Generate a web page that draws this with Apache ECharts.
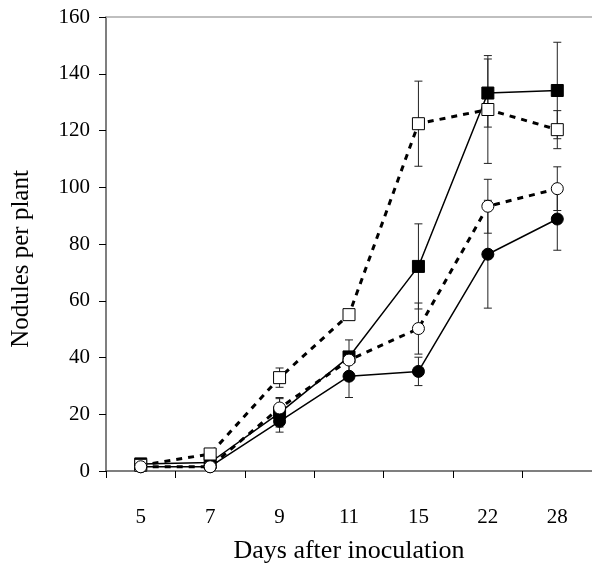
<!DOCTYPE html>
<html>
<head>
<meta charset="utf-8">
<script src="https://cdn.jsdelivr.net/npm/echarts@6/dist/echarts.min.js"></script>
<style>html,body{margin:0;padding:0;background:#fff}#c{width:592px;height:569px}</style>
</head>
<body>
<div id="c"></div>
<script>
const categories = ['5', '7', '9', '11', '15', '22', '28'];
const yTicks = { min: 0, max: 160, interval: 20 };

const filledSquare = [2.5, 3, 20.5, 40.2, 72.1, 133.2, 134.1];
const filledSquareErr = [0, 0, 5, 6, 15, 12, 17];

const filledCircle = [1.5, 1.5, 17.5, 33.4, 35.1, 76.4, 88.8];
const filledCircleErr = [0, 0, 3.8, 7.5, 5, 19, 11];

const openSquare = [2, 6, 32.9, 55.1, 122.4, 127.4, 120.3];
const openSquareErr = [0, 0, 3.4, 0, 15, 19, 6.7];

const openCircle = [1.5, 1.5, 22.2, 39.1, 50.2, 93.3, 99.5];
const openCircleErr = [0, 0, 3.7, 0, 9, 9.5, 7.7];

const FONT = 'Liberation Serif';

function errData(vals, errs) {
  const out = [];
  vals.forEach((v, i) => { if (errs[i] > 0) out.push([i, v - errs[i], v + errs[i]]); });
  return out;
}
function renderErr(params, api) {
  const x = api.value(0);
  const lo = api.coord([x, api.value(1)]);
  const hi = api.coord([x, api.value(2)]);
  const hw = 4;
  const st = { stroke: '#222', lineWidth: 1 };
  return {
    type: 'group',
    children: [
      { type: 'line', shape: { x1: lo[0], y1: lo[1], x2: hi[0], y2: hi[1] }, style: st },
      { type: 'line', shape: { x1: lo[0] - hw, y1: lo[1], x2: lo[0] + hw, y2: lo[1] }, style: st },
      { type: 'line', shape: { x1: hi[0] - hw, y1: hi[1], x2: hi[0] + hw, y2: hi[1] }, style: st }
    ]
  };
}
function errSeries(vals, errs) {
  return { type: 'custom', renderItem: renderErr, data: errData(vals, errs), z: 1, silent: true, xAxisIndex: 0 };
}
function lineSeries(name, vals, symbol, filled, dashed) {
  return {
    name, type: 'line', data: vals, symbol, symbolSize: 12, showSymbol: true, z: filled ? 3 : 4,
    itemStyle: filled ? { color: '#000', borderColor: '#000', borderWidth: 1 } : { color: '#fff', borderColor: '#000', borderWidth: 1 },
    lineStyle: dashed ? { color: '#000', width: 3, type: [6, 6] } : { color: '#000', width: 1.5, type: 'solid' },
    xAxisIndex: 0
  };
}

const chart = echarts.init(document.getElementById('c'), null, { renderer: 'canvas' });
chart.setOption({
  animation: false,
  backgroundColor: '#fff',
  grid: { left: 106, right: 0, top: 17, bottom: 90 },
  xAxis: [{
    type: 'category', data: categories, boundaryGap: true,
    axisLine: { show: true, lineStyle: { color: '#555', width: 1.5 } },
    axisTick: { show: true, length: 7, interval: 0, lineStyle: { color: '#000' } },
    axisLabel: { color: '#000', fontFamily: FONT, fontSize: 21, margin: 36 },
    name: 'Days after inoculation', nameLocation: 'middle', nameGap: 67,
    nameTextStyle: { color: '#000', fontFamily: FONT, fontSize: 26 }
  }, {
    type: 'category', data: categories, position: 'top',
    axisLine: { show: true, lineStyle: { color: '#aaa', width: 1.5 } },
    axisTick: { show: false }, axisLabel: { show: false }
  }],
  yAxis: {
    type: 'value', min: yTicks.min, max: yTicks.max, interval: yTicks.interval,
    axisLine: { show: true, lineStyle: { color: '#555', width: 1.5 } },
    axisTick: { show: true, length: 7, lineStyle: { color: '#000' } },
    splitLine: { show: false },
    axisLabel: { color: '#000', fontFamily: FONT, fontSize: 21, margin: 16 },
    name: 'Nodules per plant', nameLocation: 'middle', nameGap: 72,
    nameTextStyle: { color: '#000', fontFamily: FONT, fontSize: 25, padding: [0, 30, 0, 0] }
  },
  series: [
    errSeries(filledSquare, filledSquareErr),
    errSeries(filledCircle, filledCircleErr),
    errSeries(openSquare, openSquareErr),
    errSeries(openCircle, openCircleErr),
    lineSeries('filledSquare', filledSquare, 'rect', true, false),
    lineSeries('filledCircle', filledCircle, 'circle', true, false),
    lineSeries('openSquare', openSquare, 'rect', false, true),
    lineSeries('openCircle', openCircle, 'circle', false, true)
  ]
});
</script>
</body>
</html>
